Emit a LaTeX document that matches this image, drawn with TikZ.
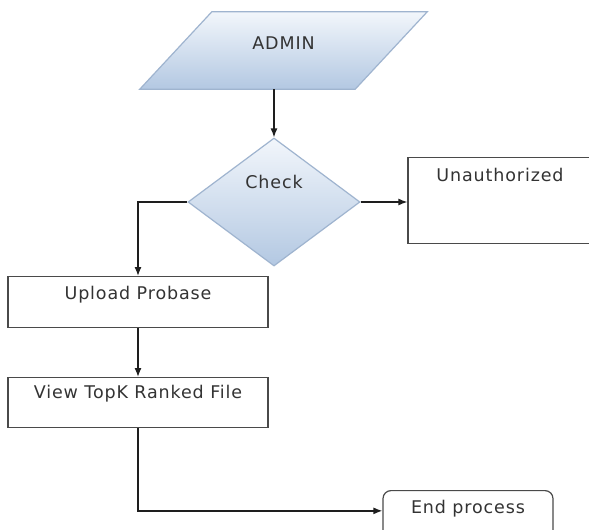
\documentclass[tikz,border=0pt]{standalone}
\usepackage{fontspec}
\setmainfont{DejaVu Sans}[LetterSpace=5]
\usetikzlibrary{shapes.geometric,arrows.meta}

\definecolor{txt}{HTML}{333333}
\definecolor{line}{HTML}{1E1E1E}
\definecolor{boxline}{HTML}{4A4A4A}
\definecolor{shadetop}{HTML}{F2F6FB}
\definecolor{shadebot}{HTML}{B3C8E2}
\definecolor{shapeline}{HTML}{9FB4CF}

\tikzset{
  every node/.style={font=\fontsize{17.5}{20}\selectfont, text=txt},
  flow/.style={draw=line, line width=1.3pt, -{Latex[length=9pt,width=7pt]}},
  slantfill/.style={draw=shapeline, line width=1.2pt, top color=shadetop, bottom color=shadebot},
  decision/.style={diamond, minimum width=172pt, minimum height=128pt, inner sep=0pt,
    draw=shapeline, line width=1.2pt, top color=shadetop, bottom color=shadebot},
  procbox/.style={rectangle, draw=boxline, line width=1.2pt, fill=white,
    inner xsep=0pt, inner ysep=0pt, anchor=north},
}

\begin{document}
\begin{tikzpicture}[x=1pt, y=-1pt]
  \clip (0,0) rectangle (589,530);
  \fill[white] (0,0) rectangle (589,530);

  % admin input: a parallelogram drawn round the body of its node
  \node[minimum width=215pt, minimum height=77pt, inner sep=0pt] (admin) at (283.5,50.5) {};
  \path[slantfill] ([xshift=36pt]admin.north west) -- ([xshift=36pt]admin.north east)
    -- ([xshift=-36pt]admin.south east) -- ([xshift=-36pt]admin.south west) -- cycle;
  \node at ([yshift=7.5pt]admin.center) {ADMIN};

  % authorisation check
  \node[decision, label={[yshift=20pt]center:Check}] (check) at (274,202) {};

  % outcome boxes (text sits near the top edge)
  \node[procbox, minimum width=184pt, text height=24pt, text depth=62pt]
    (unauth) at (500,157) {Unauthorized};
  \node[procbox, minimum width=260pt, text height=23pt, text depth=28pt]
    (upload) at (138,276) {Upload Probase};
  \node[procbox, minimum width=260pt, text height=21pt, text depth=29pt]
    (view) at (138,377) {View TopK Ranked File};
  \node[procbox, rounded corners=8pt, minimum width=170pt, text height=23pt, text depth=40pt]
    (endp) at (468,490) {End process};

  % connectors
  \draw[flow] (admin.south -| check.north) -- (check.north);
  \draw[flow] (check.east) -- (check.east -| unauth.west);
  \draw[flow] (check.west) -| (upload.north);
  \draw[flow] (upload.south) -- (view.north);
  \draw[flow] (view.south) |- (endp.mid west);
\end{tikzpicture}
\end{document}
